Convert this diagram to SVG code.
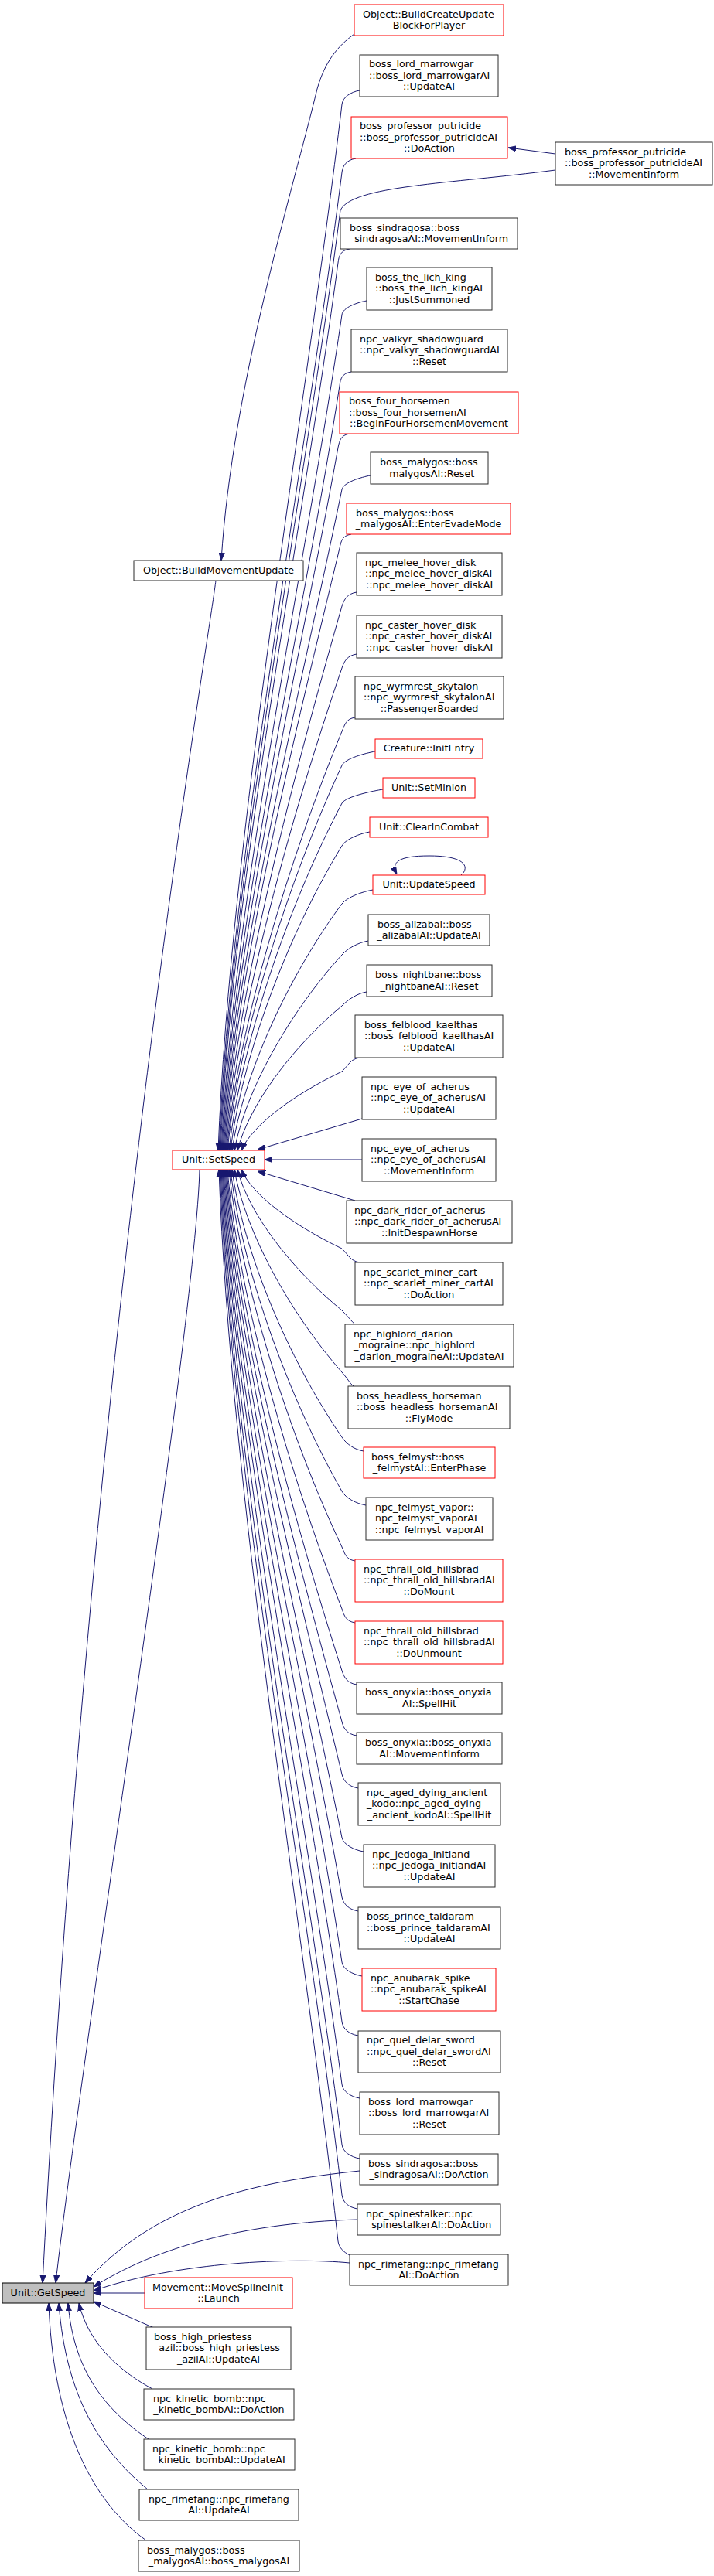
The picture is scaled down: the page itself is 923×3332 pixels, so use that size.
<svg xmlns="http://www.w3.org/2000/svg" width="923" height="3332" viewBox="0 0 923 3332">
<style>
rect{fill:#fff;stroke:#2a2a2a;stroke-width:1}
.r rect{stroke:#ff0000}
.f rect{fill:#bfbfbf;stroke:#000}
text{font-family:"DejaVu Sans","Liberation Sans",sans-serif;font-size:12.7px;fill:#000}
.c{text-anchor:middle}
#edges path{fill:none;stroke:#191970;stroke-width:1;marker-end:url(#ah)}
</style>
<defs>
<marker id="ah" markerWidth="10" markerHeight="8" refX="10" refY="4" orient="auto" markerUnits="userSpaceOnUse">
<path d="M0,0.5 L10,4 L0,7.5 z" fill="#191970" stroke="#191970" stroke-width="1"/>
</marker>
</defs>
<rect x="0" y="0" width="923" height="3332" style="fill:#fff;stroke:none"/>
<g id="edges">
<path d="M718,199 L657,191"/>
<path d="M458,44 C436,60 420,80 410,115 C380,240 300,500 286,725"/>
<path d="M279,751 C265,860 120,1700 55,2953"/>
<path d="M258,1513 C254,1700 100,2700 72,2953"/>
<path d="M465,117 C453,119 443,126 442,135 C394,541 298,1082 282,1488"/>
<path d="M460,205 C448,207 443,214 442,223 C394,603 299,1109 283,1488"/>
<path d="M718,220 C580,238 455,240 440,272 C393,637 300,1123 284,1488"/>
<path d="M452,322 C440,324 438,331 437,340 C391,684 300,1144 285,1488"/>
<path d="M474,389 C462,391 443,398 442,407 C395,731 302,1164 286,1488"/>
<path d="M454,481 C442,483 440,490 439,499 C393,796 302,1191 287,1488"/>
<path d="M452,561 C440,563 439,570 437,579 C388,852 303,1215 288,1488"/>
<path d="M479,615 C467,617 444,624 442,633 C389,890 304,1232 289,1488"/>
<path d="M454,691 C442,693 441,700 439,709 C383,943 305,1254 290,1488"/>
<path d="M461,766 C449,768 445,775 442,784 C382,995 306,1277 291,1488"/>
<path d="M461,846 C449,848 445,855 442,864 C378,1051 307,1301 292,1488"/>
<path d="M459,928 C447,930 446,937 442,946 C375,1109 308,1325 293,1488"/>
<path d="M485,972 C473,974 446,981 442,990 C373,1139 309,1339 294,1488"/>
<path d="M495,1021 C483,1023 447,1030 442,1039 C371,1174 311,1353 296,1488"/>
<path d="M478,1076 C466,1078 447,1085 442,1094 C370,1212 312,1370 298,1488"/>
<path d="M482,1151 C470,1153 449,1160 442,1169 C371,1265 314,1392 300,1488"/>
<path d="M476,1217 C464,1219 450,1226 442,1235 C373,1311 317,1412 303,1488"/>
<path d="M474,1283 C462,1285 451,1292 442,1301 C375,1357 321,1432 307,1488"/>
<path d="M465,1368 C453,1370 451,1377 442,1386 C377,1417 325,1457 312,1488"/>
<path d="M468,1447 L333,1487"/>
<path d="M468,1500 L342,1500"/>
<path d="M459,1553 L333,1515"/>
<path d="M465,1633 C453,1631 451,1624 442,1615 C377,1584 325,1544 312,1513"/>
<path d="M459,1713 C454,1709 451,1704 442,1695 C375,1640 321,1568 307,1513"/>
<path d="M457,1793 C452,1789 450,1784 442,1775 C373,1696 317,1592 303,1513"/>
<path d="M470,1877 C458,1875 448,1868 442,1859 C371,1755 314,1617 300,1513"/>
<path d="M473,1947 C461,1945 447,1938 442,1929 C371,1804 312,1638 298,1513"/>
<path d="M459,2019 C447,2017 446,2010 442,2001 C373,1855 311,1659 296,1513"/>
<path d="M459,2099 C447,2097 445,2090 442,2081 C376,1911 309,1683 294,1513"/>
<path d="M461,2179 C449,2177 445,2170 442,2161 C380,1967 308,1707 293,1513"/>
<path d="M461,2245 C449,2243 444,2236 442,2227 C383,2013 307,1727 292,1513"/>
<path d="M463,2313 C451,2311 444,2304 442,2295 C386,2060 306,1748 291,1513"/>
<path d="M470,2395 C458,2393 444,2386 442,2377 C390,2118 305,1772 290,1513"/>
<path d="M463,2472 C451,2470 444,2463 442,2454 C393,2172 304,1795 289,1513"/>
<path d="M468,2556 C456,2554 443,2547 442,2538 C396,2231 303,1821 288,1513"/>
<path d="M463,2633 C451,2631 443,2624 442,2615 C396,2284 303,1844 287,1513"/>
<path d="M465,2714 C453,2712 443,2705 442,2696 C395,2341 302,1868 286,1513"/>
<path d="M465,2792 C453,2790 443,2783 442,2774 C395,2396 301,1891 285,1513"/>
<path d="M462,2857 C450,2855 443,2848 442,2839 C395,2441 300,1911 284,1513"/>
<path d="M452,2917 C444,2913 438,2907 437,2899 C391,2483 298,1929 283,1513"/>
<path d="M596,1132 C606,1124 606,1107 555,1107 C515,1107 505,1115 513,1131"/>
<path d="M465,2808 C330,2822 200,2850 110,2953"/>
<path d="M462,2871 C350,2874 220,2895 121,2958"/>
<path d="M452,2927 C380,2920 230,2925 121,2963"/>
<path d="M187,2966 L121,2966"/>
<path d="M199,3011 L121,2977"/>
<path d="M197,3090 C160,3070 115,3035 102,2979"/>
<path d="M192,3155 C140,3120 95,3070 88,2979"/>
<path d="M191,3220 C130,3170 85,3100 76,2979"/>
<path d="M189,3286 C110,3230 68,3120 63,2979"/>
</g>
<g id="n1" class="r"><rect x="458" y="6" width="193" height="40"/><text x="469" y="22.5">Object::BuildCreateUpdate</text><text class="c" x="554.5" y="37">BlockForPlayer</text></g>
<g id="n2"><rect x="465" y="71" width="179" height="54"/><text x="477" y="87.2">boss_lord_marrowgar</text><text x="477" y="101.7">::boss_lord_marrowgarAI</text><text class="c" x="554.5" y="116.2">::UpdateAI</text></g>
<g id="n3" class="r"><rect x="454" y="151" width="202" height="54"/><text x="465" y="167.2">boss_professor_putricide</text><text x="465" y="181.7">::boss_professor_putricideAI</text><text class="c" x="555" y="196.2">::DoAction</text></g>
<g id="n4"><rect x="718" y="184" width="203" height="55"/><text x="730" y="200.7">boss_professor_putricide</text><text x="730" y="215.2">::boss_professor_putricideAI</text><text class="c" x="819.5" y="229.7">::MovementInform</text></g>
<g id="n5"><rect x="440" y="282" width="229" height="40"/><text x="452" y="298.5">boss_sindragosa::boss</text><text class="c" x="554.5" y="313">_sindragosaAI::MovementInform</text></g>
<g id="n6"><rect x="474" y="346" width="162" height="55"/><text x="485" y="362.7">boss_the_lich_king</text><text x="485" y="377.2">::boss_the_lich_kingAI</text><text class="c" x="555" y="391.7">::JustSummoned</text></g>
<g id="n7"><rect x="454" y="426" width="202" height="55"/><text x="465" y="442.7">npc_valkyr_shadowguard</text><text x="465" y="457.2">::npc_valkyr_shadowguardAI</text><text class="c" x="555" y="471.7">::Reset</text></g>
<g id="n8" class="r"><rect x="439" y="507" width="231" height="54"/><text x="451" y="523.2">boss_four_horsemen</text><text x="451" y="537.7">::boss_four_horsemenAI</text><text class="c" x="554.5" y="552.2">::BeginFourHorsemenMovement</text></g>
<g id="n9"><rect x="479" y="585" width="152" height="41"/><text x="491" y="602">boss_malygos::boss</text><text class="c" x="555" y="616.5">_malygosAI::Reset</text></g>
<g id="n10" class="r"><rect x="448" y="651" width="212" height="40"/><text x="460" y="667.5">boss_malygos::boss</text><text class="c" x="554" y="682">_malygosAI::EnterEvadeMode</text></g>
<g id="n11"><rect x="461" y="715" width="188" height="55"/><text x="472" y="731.7">npc_melee_hover_disk</text><text x="472" y="746.2">::npc_melee_hover_diskAI</text><text class="c" x="555" y="760.7">::npc_melee_hover_diskAI</text></g>
<g id="n12"><rect x="461" y="796" width="188" height="55"/><text x="472" y="812.7">npc_caster_hover_disk</text><text x="472" y="827.2">::npc_caster_hover_diskAI</text><text class="c" x="555" y="841.7">::npc_caster_hover_diskAI</text></g>
<g id="n13"><rect x="459" y="875" width="192" height="55"/><text x="470" y="891.7">npc_wyrmrest_skytalon</text><text x="470" y="906.2">::npc_wyrmrest_skytalonAI</text><text class="c" x="555" y="920.7">::PassengerBoarded</text></g>
<g id="n14" class="r"><rect x="485" y="956" width="139" height="25"/><text class="c" x="554.5" y="972.2">Creature::InitEntry</text></g>
<g id="n15" class="r"><rect x="495" y="1006" width="119" height="26"/><text class="c" x="554.5" y="1022.7">Unit::SetMinion</text></g>
<g id="n16" class="r"><rect x="478" y="1057" width="153" height="26"/><text class="c" x="554.5" y="1073.7">Unit::ClearInCombat</text></g>
<g id="n17" class="r"><rect x="482" y="1132" width="145" height="25"/><text class="c" x="554.5" y="1148.2">Unit::UpdateSpeed</text></g>
<g id="n18"><rect x="476" y="1183" width="157" height="40"/><text x="488" y="1199.5">boss_alizabal::boss</text><text class="c" x="554.5" y="1214">_alizabalAI::UpdateAI</text></g>
<g id="n19"><rect x="474" y="1248" width="162" height="41"/><text x="485" y="1265">boss_nightbane::boss</text><text class="c" x="555" y="1279.5">_nightbaneAI::Reset</text></g>
<g id="n20"><rect x="459" y="1313" width="191" height="55"/><text x="471" y="1329.7">boss_felblood_kaelthas</text><text x="471" y="1344.2">::boss_felblood_kaelthasAI</text><text class="c" x="554.5" y="1358.7">::UpdateAI</text></g>
<g id="n21"><rect x="468" y="1393" width="173" height="55"/><text x="479" y="1409.7">npc_eye_of_acherus</text><text x="479" y="1424.2">::npc_eye_of_acherusAI</text><text class="c" x="554.5" y="1438.7">::UpdateAI</text></g>
<g id="n22"><rect x="468" y="1473" width="173" height="55"/><text x="479" y="1489.7">npc_eye_of_acherus</text><text x="479" y="1504.2">::npc_eye_of_acherusAI</text><text class="c" x="554.5" y="1518.7">::MovementInform</text></g>
<g id="n23"><rect x="448" y="1553" width="214" height="55"/><text x="458" y="1569.7">npc_dark_rider_of_acherus</text><text x="458" y="1584.2">::npc_dark_rider_of_acherusAI</text><text class="c" x="555" y="1598.7">::InitDespawnHorse</text></g>
<g id="n24"><rect x="459" y="1633" width="191" height="55"/><text x="470" y="1649.7">npc_scarlet_miner_cart</text><text x="470" y="1664.2">::npc_scarlet_miner_cartAI</text><text class="c" x="554.5" y="1678.7">::DoAction</text></g>
<g id="n25"><rect x="446" y="1713" width="218" height="55"/><text x="457" y="1729.7">npc_highlord_darion</text><text x="457" y="1744.2">_mograine::npc_highlord</text><text class="c" x="555" y="1758.7">_darion_mograineAI::UpdateAI</text></g>
<g id="n26"><rect x="450" y="1793" width="209" height="55"/><text x="461" y="1809.7">boss_headless_horseman</text><text x="461" y="1824.2">::boss_headless_horsemanAI</text><text class="c" x="554.5" y="1838.7">::FlyMode</text></g>
<g id="n27" class="r"><rect x="470" y="1872" width="170" height="40"/><text x="480" y="1888.5">boss_felmyst::boss</text><text class="c" x="555" y="1903">_felmystAI::EnterPhase</text></g>
<g id="n28"><rect x="473" y="1937" width="164" height="55"/><text x="485" y="1953.7">npc_felmyst_vapor::</text><text x="485" y="1968.2">npc_felmyst_vaporAI</text><text class="c" x="555" y="1982.7">::npc_felmyst_vaporAI</text></g>
<g id="n29" class="r"><rect x="459" y="2017" width="191" height="55"/><text x="470" y="2033.7">npc_thrall_old_hillsbrad</text><text x="470" y="2048.2">::npc_thrall_old_hillsbradAI</text><text class="c" x="554.5" y="2062.7">::DoMount</text></g>
<g id="n30" class="r"><rect x="459" y="2097" width="191" height="55"/><text x="470" y="2113.7">npc_thrall_old_hillsbrad</text><text x="470" y="2128.2">::npc_thrall_old_hillsbradAI</text><text class="c" x="554.5" y="2142.7">::DoUnmount</text></g>
<g id="n31"><rect x="461" y="2176" width="188" height="41"/><text x="472" y="2193">boss_onyxia::boss_onyxia</text><text class="c" x="555" y="2207.5">AI::SpellHit</text></g>
<g id="n32"><rect x="461" y="2241" width="188" height="41"/><text x="472" y="2258">boss_onyxia::boss_onyxia</text><text class="c" x="555" y="2272.5">AI::MovementInform</text></g>
<g id="n33"><rect x="463" y="2306" width="184" height="55"/><text x="474" y="2322.7">npc_aged_dying_ancient</text><text x="474" y="2337.2">_kodo::npc_aged_dying</text><text class="c" x="555" y="2351.7">_ancient_kodoAI::SpellHit</text></g>
<g id="n34"><rect x="470" y="2386" width="170" height="55"/><text x="481" y="2402.7">npc_jedoga_initiand</text><text x="481" y="2417.2">::npc_jedoga_initiandAI</text><text class="c" x="555" y="2431.7">::UpdateAI</text></g>
<g id="n35"><rect x="463" y="2467" width="184" height="54"/><text x="474" y="2483.2">boss_prince_taldaram</text><text x="474" y="2497.7">::boss_prince_taldaramAI</text><text class="c" x="555" y="2512.2">::UpdateAI</text></g>
<g id="n36" class="r"><rect x="468" y="2546" width="173" height="55"/><text x="479" y="2562.7">npc_anubarak_spike</text><text x="479" y="2577.2">::npc_anubarak_spikeAI</text><text class="c" x="554.5" y="2591.7">::StartChase</text></g>
<g id="n37"><rect x="463" y="2627" width="184" height="54"/><text x="474" y="2643.2">npc_quel_delar_sword</text><text x="474" y="2657.7">::npc_quel_delar_swordAI</text><text class="c" x="555" y="2672.2">::Reset</text></g>
<g id="n38"><rect x="465" y="2706" width="180" height="55"/><text x="476" y="2722.7">boss_lord_marrowgar</text><text x="476" y="2737.2">::boss_lord_marrowgarAI</text><text class="c" x="555" y="2751.7">::Reset</text></g>
<g id="n39"><rect x="465" y="2786" width="179" height="40"/><text x="476" y="2802.5">boss_sindragosa::boss</text><text class="c" x="554.5" y="2817">_sindragosaAI::DoAction</text></g>
<g id="n40"><rect x="462" y="2851" width="185" height="40"/><text x="473" y="2867.5">npc_spinestalker::npc</text><text class="c" x="554.5" y="2882">_spinestalkerAI::DoAction</text></g>
<g id="n41"><rect x="452" y="2916" width="205" height="40"/><text x="463" y="2932.5">npc_rimefang::npc_rimefang</text><text class="c" x="554.5" y="2947">AI::DoAction</text></g>
<g id="bmu"><rect x="173" y="725" width="219" height="26"/><text class="c" x="282.5" y="741.7">Object::BuildMovementUpdate</text></g>
<g id="setspeed" class="r"><rect x="223" y="1488" width="119" height="25"/><text class="c" x="282.5" y="1504.2">Unit::SetSpeed</text></g>
<g id="launch" class="r"><rect x="187" y="2946" width="191" height="40"/><text x="197" y="2962.5">Movement::MoveSplineInit</text><text class="c" x="282.5" y="2977">::Launch</text></g>
<g id="azil"><rect x="189" y="3010" width="187" height="55"/><text x="199" y="3026.7">boss_high_priestess</text><text x="199" y="3041.2">_azil::boss_high_priestess</text><text class="c" x="282.5" y="3055.7">_azilAI::UpdateAI</text></g>
<g id="kbdo"><rect x="186" y="3090" width="194" height="40"/><text x="198" y="3106.5">npc_kinetic_bomb::npc</text><text class="c" x="283" y="3121">_kinetic_bombAI::DoAction</text></g>
<g id="kbup"><rect x="186" y="3155" width="195" height="40"/><text x="197" y="3171.5">npc_kinetic_bomb::npc</text><text class="c" x="283.5" y="3186">_kinetic_bombAI::UpdateAI</text></g>
<g id="rimeup"><rect x="180" y="3220" width="206" height="40"/><text x="192" y="3236.5">npc_rimefang::npc_rimefang</text><text class="c" x="283" y="3251">AI::UpdateAI</text></g>
<g id="malygos"><rect x="179" y="3286" width="208" height="40"/><text x="190" y="3302.5">boss_malygos::boss</text><text class="c" x="283" y="3317">_malygosAI::boss_malygosAI</text></g>
<g id="getspeed" class="f"><rect x="3" y="2953" width="118" height="26"/><text class="c" x="62" y="2969.7">Unit::GetSpeed</text></g>
</svg>
